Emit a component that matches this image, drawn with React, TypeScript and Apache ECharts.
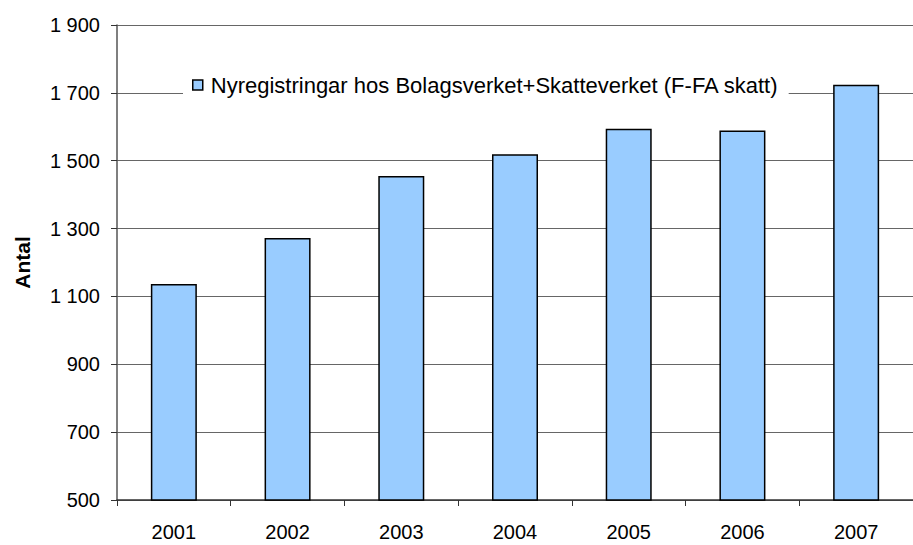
import React, { useEffect, useRef } from "react";
import * as echarts from "echarts";

const years = ["2001", "2002", "2003", "2004", "2005", "2006", "2007"];
const registrations = [1137, 1272, 1455, 1519, 1594, 1589, 1724];
const seriesName = "Nyregistringar hos Bolagsverket+Skatteverket (F-FA skatt)";
const yMin = 500;
const yMax = 1900;
const yStep = 200;

const FONT = "'Liberation Sans', Arial, sans-serif";

function fmt(v: number): string {
  return String(v).replace(/\B(?=(\d{3})+(?!\d))/g, " ");
}

export default function App() {
  const ref = useRef<HTMLDivElement>(null);
  useEffect(() => {
    document.body.style.margin = "0";
    if (!ref.current) return;
    const chart = echarts.init(ref.current, undefined, { renderer: "svg" });
    chart.setOption({
      animation: false,
      backgroundColor: "#fff",
      textStyle: { fontFamily: FONT },
      grid: { left: 117, top: 25, width: 805, height: 475, containLabel: false },
      legend: {
        data: [seriesName],
        left: 183,
        top: 69,
        padding: [5, 10, 5, 9],
        backgroundColor: "#fff",
        icon: "rect",
        itemWidth: 10,
        itemHeight: 10,
        itemStyle: { borderColor: "#000", borderWidth: 1.5 },
        textStyle: { fontSize: 22, color: "#000", fontFamily: FONT, padding: [0, 0, 0, 3] },
      },
      xAxis: {
        type: "category",
        data: years,
        boundaryGap: true,
        axisLine: { lineStyle: { color: "#333", width: 1.5 } },
        axisTick: { show: true, alignWithLabel: false, length: 6, lineStyle: { color: "#333" } },
        axisLabel: { fontSize: 20, color: "#000", margin: 22, fontFamily: FONT },
      },
      yAxis: {
        type: "value",
        min: yMin,
        max: yMax,
        interval: yStep,
        name: "Antal",
        nameLocation: "middle",
        nameGap: 84,
        nameTextStyle: { fontSize: 21, fontWeight: "bold", color: "#000", fontFamily: FONT },
        axisLine: { show: true, lineStyle: { color: "#555", width: 1.5 } },
        axisTick: { show: true, length: 6, lineStyle: { color: "#333" } },
        axisLabel: { fontSize: 20, color: "#000", margin: 17, fontFamily: FONT, formatter: (v: number) => fmt(v) },
        splitLine: { show: true, lineStyle: { color: "#666", width: 1 } },
      },
      series: [
        {
          name: seriesName,
          type: "bar",
          data: registrations,
          barWidth: 46,
          itemStyle: { color: "#99CCFF", borderColor: "#000", borderWidth: 1.5 },
        },
      ],
    });
    return () => chart.dispose();
  }, []);
  return <div ref={ref} style={{ width: 913, height: 545 }} />;
}
